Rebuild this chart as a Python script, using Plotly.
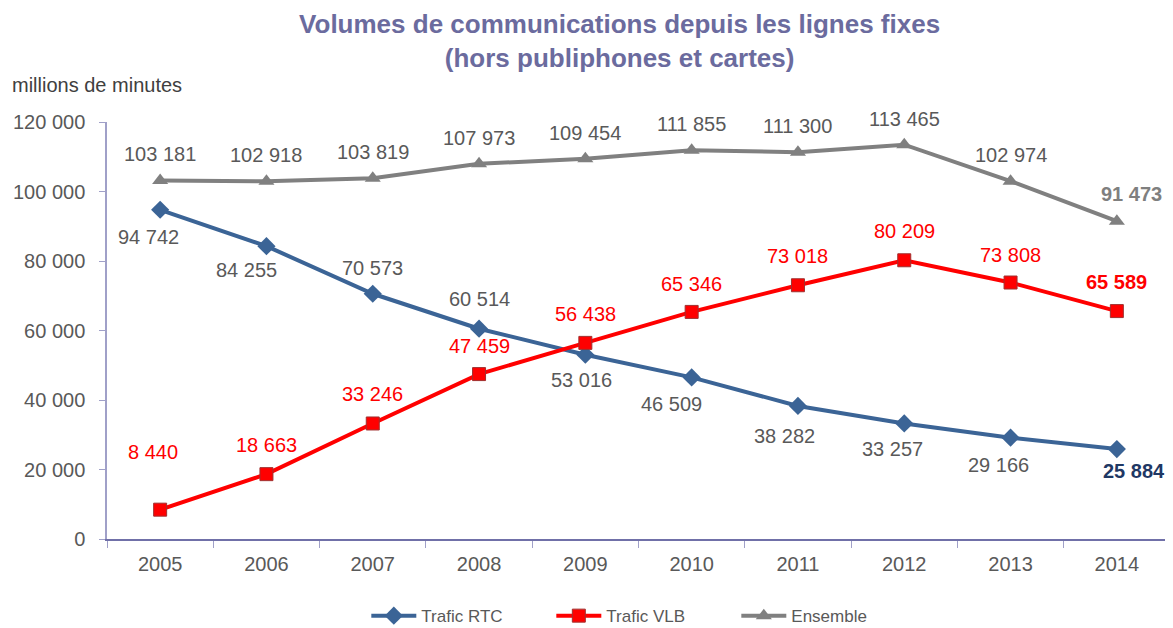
import plotly.graph_objects as go

years = ["2005", "2006", "2007", "2008", "2009", "2010", "2011", "2012", "2013", "2014"]
rtc = [94742, 84255, 70573, 60514, 53016, 46509, 38282, 33257, 29166, 25884]
vlb = [8440, 18663, 33246, 47459, 56438, 65346, 73018, 80209, 73808, 65589]
ensemble = [103181, 102918, 103819, 107973, 109454, 111855, 111300, 113465, 102974, 91473]

# label offsets (pixels; positive dy = downward) for each series
rtc_dx = [-12, -20, 0, 0, -4, -20, -13, -12, -12, 17]
rtc_dy = [27, 24, -26, -30, 25, 27, 30, 26, 27, 22]
vlb_dx = [-7, 0, 0, 0, 0, 0, 0, 0, 0, 0]
vlb_dy = [-58, -29, -29, -28, -29, -28, -29, -29, -28, -29]
ens_dx = [0, 0, 0, 0, 0, 0, 0, 0, 0, 15]
ens_dy = [-26, -26, -26, -26, -26, -26, -26, -26, -26, -27]

def fmt(v):
    return f"{v:,}".replace(",", " ")

fig = go.Figure()
fig.add_trace(go.Scatter(
    x=years, y=rtc, name="Trafic RTC", mode="lines+markers",
    line=dict(color="#3B6496", width=4),
    marker=dict(symbol="diamond", size=14, color="#3B6496"),
))
fig.add_trace(go.Scatter(
    x=years, y=vlb, name="Trafic VLB", mode="lines+markers",
    line=dict(color="#FF0000", width=4),
    marker=dict(symbol="square", size=13, color="#FF0000",
                line=dict(color="#A0302F", width=1)),
))
fig.add_trace(go.Scatter(
    x=years, y=ensemble, name="Ensemble", mode="lines+markers",
    line=dict(color="#808080", width=4),
    marker=dict(symbol="triangle-up", size=14, color="#808080"),
))

annotations = []
n = len(years)
for i in range(n):
    last = i == n - 1
    annotations.append(dict(
        x=i, y=rtc[i], text=(f"<b>{fmt(rtc[i])}</b>" if last else fmt(rtc[i])),
        showarrow=False, xshift=rtc_dx[i], yshift=-rtc_dy[i],
        font=dict(size=20, color="#1F3864" if last else "#595959")))
    annotations.append(dict(
        x=i, y=vlb[i], text=(f"<b>{fmt(vlb[i])}</b>" if last else fmt(vlb[i])),
        showarrow=False, xshift=vlb_dx[i], yshift=-vlb_dy[i],
        font=dict(size=20, color="#FF0000")))
    annotations.append(dict(
        x=i, y=ensemble[i], text=(f"<b>{fmt(ensemble[i])}</b>" if last else fmt(ensemble[i])),
        showarrow=False, xshift=ens_dx[i], yshift=-ens_dy[i],
        font=dict(size=20, color="#7F7F7F" if last else "#595959")))

annotations.append(dict(
    text="millions de minutes", xref="paper", yref="paper",
    x=-0.0913, y=1.0885, xanchor="left", yanchor="middle", showarrow=False,
    font=dict(size=20, color="#404040")))

fig.update_layout(
    width=1165, height=628,
    margin=dict(l=99, r=3, t=114, b=96),
    paper_bgcolor="white", plot_bgcolor="white",
    font=dict(family="Liberation Sans, Arial, sans-serif", color="#595959", size=20),
    separators=", ",
    title=dict(
        text="<b>Volumes de communications depuis les lignes fixes<br>(hors publiphones et cartes)</b>",
        x=0.525, xanchor="center", y=0.960, yanchor="top",
        font=dict(size=26, color="#6B6B9E")),
    showlegend=True,
    legend=dict(orientation="h", x=0.505, xanchor="center", y=-0.182, yanchor="middle",
                font=dict(size=17, color="#595959"), itemwidth=45,
                traceorder="normal", entrywidthmode="pixels", entrywidth=125),
    annotations=annotations,
    xaxis=dict(
        type="category", showgrid=False, tickson="boundaries",
        ticks="outside", ticklen=7, tickcolor="#A0A0C8",
        showline=True, linecolor="#7070A8", linewidth=1.5,
        tickfont=dict(size=20, color="#595959"), range=[-0.5, 9.5],
        ticklabelstandoff=6,
    ),
    yaxis=dict(
        range=[0, 120000], dtick=20000, showgrid=False, zeroline=False,
        ticks="outside", ticklen=6, tickcolor="#A0A0C8",
        showline=True, linecolor="#A0A0C8", linewidth=1.5,
        tickformat=",d", tickfont=dict(size=20, color="#595959"),
        ticklabelstandoff=10,
    ),
)

fig.write_html("out.html")
